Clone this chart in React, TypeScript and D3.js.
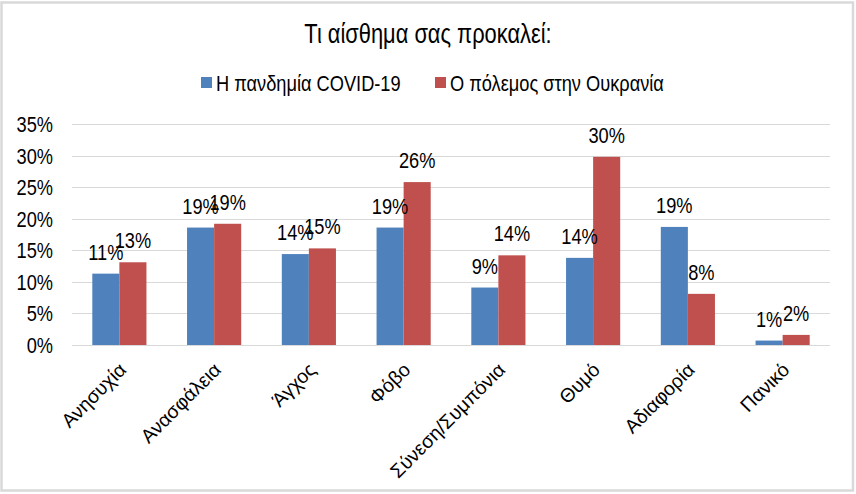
import React, { useEffect, useRef } from 'react';
import * as d3 from 'd3';

const categories = ['Ανησυχία', 'Ανασφάλεια', 'Άγχος', 'Φόβο', 'Σύνεση/Συμπόνια', 'Θυμό', 'Αδιαφορία', 'Πανικό'];
const seriesNames = ['Η πανδημία COVID-19', 'Ο πόλεμος στην Ουκρανία'];
const covidValues = [0.113, 0.186, 0.144, 0.186, 0.091, 0.138, 0.187, 0.007];
const warValues = [0.131, 0.192, 0.153, 0.258, 0.142, 0.298, 0.081, 0.016];
const yTicks = [0, 0.05, 0.1, 0.15, 0.2, 0.25, 0.3, 0.35];
const colors = ['#4f81bd', '#c0504d'];

const W = 856;
const H = 494;
const FONT = '"Liberation Sans", Arial, sans-serif';
const NARROW = 0.81; // the original uses a narrow face

const App: React.FC = () => {
  const svgRef = useRef<SVGSVGElement>(null);

  useEffect(() => {
    if (!svgRef.current) return;
    const svg = d3.select(svgRef.current);
    svg.selectAll('*').remove();

    const plot = { left: 72, right: 830, top: 124, bottom: 345 };

    // chart background + border
    svg.append('rect')
      .attr('x', 1.5).attr('y', 2.5)
      .attr('width', 851.5).attr('height', 488)
      .attr('fill', '#fff')
      .attr('stroke', '#d9d9d9')
      .attr('stroke-width', 2.5);

    const x0 = d3.scaleBand<string>()
      .domain(categories)
      .range([plot.left, plot.right])
      .padding(0);

    // gap width 150% -> outer padding 0.75 of a bar on each side
    const x1 = d3.scaleBand<string>()
      .domain(seriesNames)
      .range([0, x0.step()])
      .paddingInner(0)
      .paddingOuter(0.75);

    const y = d3.scaleLinear()
      .domain([0, 0.35])
      .range([plot.bottom, plot.top]);

    // condensed text helper
    const addText = (
      tx: number, ty: number, txt: string, size: number, anchor = 'start'
    ) => svg.append('text')
      .attr('transform', `translate(${tx},${ty}) scale(${NARROW},1)`)
      .attr('text-anchor', anchor)
      .style('font-family', FONT)
      .style('font-size', `${size}px`)
      .attr('fill', '#000')
      .text(txt);

    // gridlines + y tick labels
    yTicks.forEach(t => {
      svg.append('line')
        .attr('x1', plot.left).attr('x2', plot.right)
        .attr('y1', Math.round(y(t)) + 0.5).attr('y2', Math.round(y(t)) + 0.5)
        .attr('stroke', '#d9d9d9')
        .attr('stroke-width', 1);
      addText(53, y(t) + 8, d3.format('.0%')(t), 22.5, 'end');
    });

    // bars
    const series = [covidValues, warValues];
    series.forEach((vals, si) => {
      vals.forEach((v, i) => {
        const bx = (x0(categories[i]) || 0) + (x1(seriesNames[si]) || 0);
        svg.append('rect')
          .attr('x', bx)
          .attr('y', y(v))
          .attr('width', x1.bandwidth())
          .attr('height', y(0) - y(v))
          .attr('fill', colors[si]);
      });
    });

    // value labels
    series.forEach((vals, si) => {
      vals.forEach((v, i) => {
        const bx = (x0(categories[i]) || 0) + (x1(seriesNames[si]) || 0);
        addText(bx + x1.bandwidth() / 2, y(v) - 14, `${Math.round(v * 100)}%`, 22.5, 'middle');
      });
    });

    // category labels
    categories.forEach(c => {
      const cx = (x0(c) || 0) + x0.bandwidth() / 2;
      svg.append('text')
        .attr('transform', `translate(${cx + 8},371) rotate(-45)`)
        .attr('text-anchor', 'end')
        .style('font-family', FONT)
        .style('font-size', '19.5px')
        .attr('fill', '#000')
        .text(c);
    });

    // title
    addText(428, 43, 'Τι αίσθημα σας προκαλεί:', 27, 'middle');

    // legend
    const legendX = [201, 435];
    seriesNames.forEach((name, si) => {
      svg.append('rect')
        .attr('x', legendX[si]).attr('y', 77)
        .attr('width', 11).attr('height', 11)
        .attr('fill', colors[si]);
      addText(legendX[si] + 15, 91, name, 22.5, 'start');
    });
  }, []);

  return (
    <svg
      ref={svgRef}
      width={W}
      height={H}
      style={{ position: 'absolute', left: 0, top: 0, display: 'block', background: '#fff' }}
    />
  );
};

export default App;
